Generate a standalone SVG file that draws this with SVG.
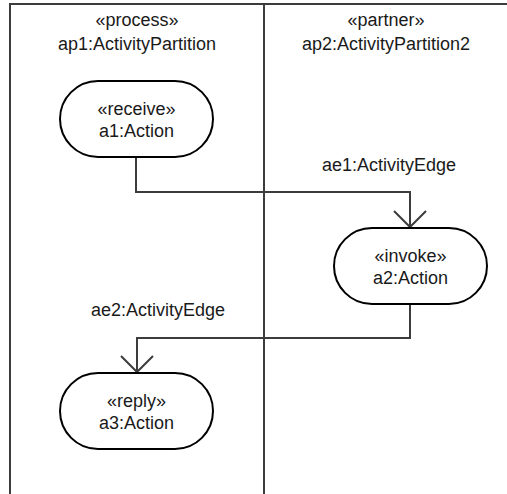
<svg xmlns="http://www.w3.org/2000/svg" width="507" height="494" viewBox="0 0 507 494">
<style>
text{font-family:"Liberation Sans",Arial,sans-serif;font-size:18px;fill:#1a1a1a;text-anchor:middle}
.frame{stroke:#3c3c3c;stroke-width:2;fill:none}
.node{fill:#fff;stroke:#000;stroke-width:2}
.edge{stroke:#3c3c3c;stroke-width:2;fill:none}
</style>
<defs>
<marker id="open" viewBox="0 0 20 34" refX="17" refY="17" markerWidth="20" markerHeight="34" markerUnits="userSpaceOnUse" orient="auto">
<path d="M1,1 L17,17 L1,33" fill="none" stroke="#3c3c3c" stroke-width="2"/>
</marker>
</defs>
<g id="frame">
<path class="frame" d="M10,494 V4 H507"/>
<line class="frame" x1="264" y1="4" x2="264" y2="494"/>
</g>
<g id="ap1">
<text x="137" y="26">«process»</text>
<text x="137" y="50">ap1:ActivityPartition</text>
</g>
<g id="ap2">
<text x="386" y="26">«partner»</text>
<text x="386" y="50">ap2:ActivityPartition2</text>
</g>
<g id="connectors">
<path class="edge" d="M136,157 V192 H410 V227" marker-end="url(#open)"/>
<text x="389" y="171">ae1:ActivityEdge</text>
<path class="edge" d="M410,304 V338 H137 V372" marker-end="url(#open)"/>
<text x="158" y="316">ae2:ActivityEdge</text>
</g>
<g id="a1">
<rect class="node" x="60" y="81" width="153" height="76" rx="38" ry="38"/>
<text x="136.5" y="115">«receive»</text>
<text x="136.5" y="137">a1:Action</text>
</g>
<g id="a2">
<rect class="node" x="334" y="228" width="153" height="76" rx="38" ry="38"/>
<text x="410.5" y="262">«invoke»</text>
<text x="410.5" y="284">a2:Action</text>
</g>
<g id="a3">
<rect class="node" x="60" y="373" width="153" height="76" rx="38" ry="38"/>
<text x="136.5" y="407">«reply»</text>
<text x="136.5" y="429">a3:Action</text>
</g>
</svg>
